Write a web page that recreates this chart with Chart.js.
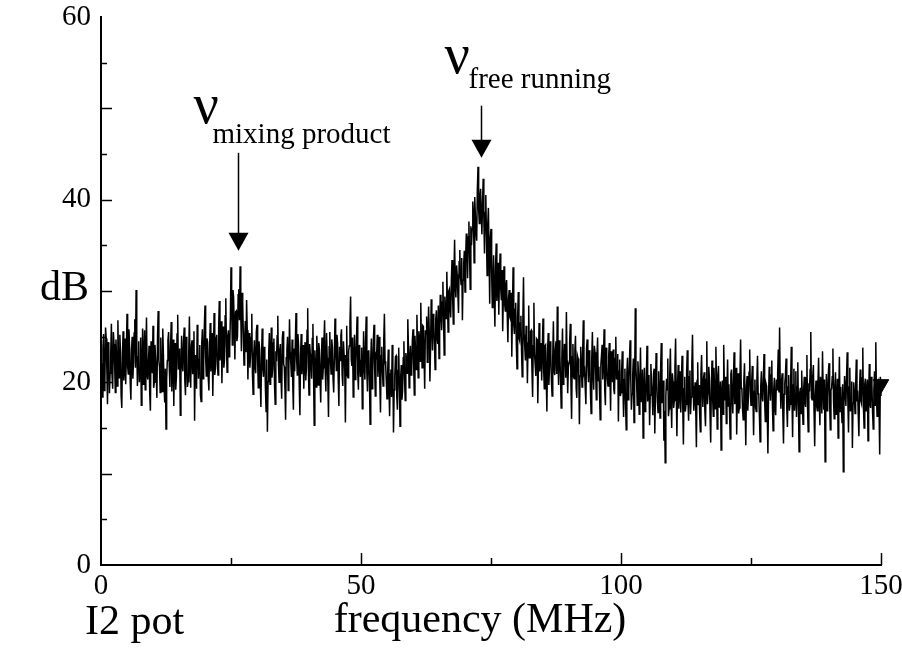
<!DOCTYPE html>
<html>
<head>
<meta charset="utf-8">
<script src="https://cdn.jsdelivr.net/npm/chart.js@4.4.1/dist/chart.umd.min.js"></script>
<style>
  html, body { margin: 0; padding: 0; background: #fff; }
  #wrap { width: 902px; height: 650px; }
</style>
</head>
<body>
<div id="wrap"><canvas id="c" width="902" height="650"></canvas></div>
<script>
// ---- data (dB values) ----
// samples on the quarter-MHz grid: f = k * 0.25 MHz
const freqStart = 0;      // MHz
const freqStep = 0.25;    // MHz between grid samples
// the "mid" arrays hold the samples lying halfway between grid samples

const dB_000_025 = [
  22.1, 18.4, 25.3, 20.2, 24.8, 17.6, 23.9, 21.0, 26.4, 19.3,
  24.2, 18.9, 22.7, 26.8, 20.5, 23.4, 17.2, 25.6, 21.3, 19.8,
  27.5, 20.9, 23.8, 18.1, 25.0, 22.2, 26.9, 30.1, 19.6, 24.5,
  21.4, 17.5, 25.9, 22.8, 19.2, 27.1, 20.3, 24.0, 16.9, 23.3,
  26.2, 20.0, 22.6, 18.3, 27.8, 21.7, 24.9, 19.0, 23.1, 17.8,
  14.9, 22.4, 25.5, 19.5, 26.6, 21.9, 17.4, 24.3, 20.6, 27.4,
  22.0, 16.4, 25.1, 21.2, 26.0, 18.6, 23.6, 20.1, 27.2, 19.4,
  24.6, 21.8, 15.8, 23.0, 26.3, 20.4, 24.1, 17.9, 25.8, 22.3,
  28.4, 20.7, 24.4, 19.1, 26.5, 22.9, 18.5, 27.6, 21.5, 25.2,
  20.8, 28.9, 23.5, 19.9, 26.1, 22.5, 29.2, 21.1, 25.7, 23.7
];
const dBmid_000_025 = [
  20.6, 23.8, 19.1, 26.0, 21.5, 24.4, 18.8, 23.2, 20.7, 25.5,
  21.9, 24.7, 19.6, 22.1, 25.2, 18.5, 22.9, 20.2, 24.8, 23.0,
  21.7, 25.8, 19.9, 23.6, 20.4, 25.4, 21.6, 24.2, 22.8, 20.0,
  24.9, 21.1, 19.8, 25.7, 23.4, 20.8, 22.3, 18.7, 24.5, 21.0,
  19.4, 24.1, 20.9, 25.1, 22.4, 18.9, 22.0, 25.9, 19.7, 21.5,
  20.3, 24.6, 21.8, 23.9, 19.0, 24.7, 22.6, 19.2, 25.3, 21.4,
  23.7, 20.6, 22.2, 24.5, 20.1, 25.0, 19.5, 23.3, 21.7, 24.0,
  20.9, 25.6, 22.9, 19.3, 23.8, 22.5, 18.6, 24.3, 20.4, 26.2,
  22.7, 24.8, 20.5, 23.6, 21.2, 25.4, 23.1, 20.8, 24.9, 22.0,
  25.9, 22.4, 26.7, 24.2, 21.6, 27.3, 23.9, 25.1, 22.8, 27.0
];
const dB_025_050 = [
  32.6, 24.1, 29.3, 22.5, 27.8, 25.0, 30.2, 32.7, 23.4, 28.6,
  21.9, 26.7, 29.0, 20.3, 25.4, 22.8, 27.5, 18.7, 24.6, 21.0,
  26.3, 19.4, 23.7, 17.3, 25.9, 20.6, 22.9, 16.8, 14.6, 23.2,
  19.8, 26.0, 21.4, 24.8, 17.6, 22.3, 27.3, 20.0, 24.2, 18.2,
  25.6, 21.7, 15.9, 23.5, 19.1, 26.9, 22.1, 24.7, 17.0, 21.2,
  27.6, 20.8, 23.9, 16.4, 25.3, 22.6, 19.3, 24.4, 21.5, 28.1,
  18.6, 23.1, 20.4, 26.4, 15.3, 22.0, 25.1, 19.7, 23.6, 17.8,
  24.9, 21.6, 26.8, 19.0, 22.7, 16.2, 25.5, 20.9, 23.8, 18.9,
  27.0, 21.3, 24.3, 17.4, 22.4, 25.8, 19.6, 23.0, 15.6, 26.2,
  20.5, 24.0, 29.4, 21.8, 18.4, 25.2, 22.2, 27.2, 19.2, 23.3
];
const dBmid_025_050 = [
  28.4, 30.1, 26.0, 27.7, 24.5, 29.6, 26.8, 27.9, 29.8, 25.2,
  24.6, 23.3, 25.7, 23.9, 21.6, 24.9, 20.9, 23.1, 21.7, 25.6,
  22.3, 24.5, 20.2, 22.8, 21.5, 23.9, 19.2, 22.5, 20.1, 25.4,
  22.8, 20.5, 24.3, 19.6, 23.4, 25.1, 21.9, 23.6, 20.4, 24.9,
  22.0, 19.3, 22.7, 25.0, 21.4, 23.3, 20.6, 19.8, 23.7, 24.5,
  22.5, 25.3, 19.6, 22.9, 20.9, 24.1, 22.8, 20.2, 25.7, 21.6,
  24.2, 21.9, 24.8, 20.7, 23.5, 19.5, 22.8, 24.3, 20.6, 22.4,
  20.3, 24.6, 21.1, 25.4, 20.1, 23.9, 22.3, 24.7, 20.4, 22.8,
  23.5, 25.2, 20.2, 23.9, 25.1, 20.8, 24.5, 21.5, 22.9, 20.7,
  23.4, 26.5, 22.5, 24.9, 22.1, 20.3, 24.6, 21.0, 24.1, 20.6
];
const dB_050_075 = [
  22.4, 17.1, 25.6, 20.3, 27.2, 19.0, 23.5, 15.4, 24.8, 21.1,
  26.3, 18.5, 22.8, 20.6, 25.0, 16.7, 23.9, 19.6, 27.5, 21.8,
  18.2, 23.6, 16.3, 21.4, 24.1, 14.5, 20.7, 22.9, 17.0, 23.8,
  15.2, 21.9, 19.1, 24.5, 18.0, 22.6, 26.9, 19.4, 24.0, 21.2,
  25.8, 18.6, 23.4, 27.4, 20.5, 24.9, 28.7, 21.6, 26.1, 19.3,
  25.3, 22.2, 28.3, 20.1, 29.1, 23.5, 26.6, 21.4, 27.9, 24.2,
  22.6, 29.6, 25.7, 31.0, 23.0, 28.4, 32.1, 25.5, 30.2, 27.1,
  33.4, 26.4, 35.6, 29.3, 31.8, 27.6, 34.5, 30.7, 26.8, 33.0,
  29.9, 36.3, 31.4, 37.6, 30.2, 35.0, 39.8, 33.1, 38.2, 35.5,
  43.6, 37.4, 41.2, 36.2, 42.3, 34.1, 40.5, 31.7, 39.1, 28.6
];
const dBmid_050_075 = [
  23.8, 20.6, 21.9, 24.3, 21.0, 23.4, 20.2, 22.6, 19.3, 24.5,
  21.6, 23.0, 25.2, 22.4, 19.8, 22.9, 21.2, 24.6, 22.3, 20.0,
  21.1, 19.7, 20.9, 18.4, 21.6, 19.2, 22.8, 18.5, 21.3, 19.6,
  20.5, 18.1, 22.7, 20.3, 23.2, 21.0, 23.9, 22.5, 20.8, 24.6,
  22.2, 25.1, 21.4, 24.0, 25.6, 22.3, 24.1, 26.2, 23.0, 25.7,
  27.2, 24.8, 25.6, 23.7, 26.4, 27.5, 24.3, 26.9, 25.0, 28.4,
  26.3, 27.5, 28.8, 26.6, 29.4, 27.0, 28.9, 30.0, 28.1, 31.1,
  29.2, 31.6, 30.4, 32.8, 29.7, 33.2, 31.5, 33.6, 31.2, 34.4,
  33.6, 34.2, 35.9, 34.0, 37.1, 36.8, 38.6, 40.3, 36.4, 41.1,
  39.0, 40.3, 38.5, 39.7, 37.9, 38.6, 36.1, 37.3, 34.5, 35.8
];
const dB_075_100 = [
  36.8, 28.2, 33.9, 26.1, 35.2, 30.3, 27.4, 34.1, 29.0, 25.6,
  32.7, 27.8, 31.2, 24.4, 30.1, 26.9, 22.8, 32.6, 25.3, 28.7,
  21.5, 29.9, 24.6, 27.3, 20.6, 31.5, 23.8, 26.2, 19.9, 28.4,
  22.7, 25.7, 18.4, 28.7, 21.9, 24.8, 17.7, 26.5, 22.3, 20.2,
  27.0, 19.3, 24.1, 16.8, 25.4, 21.6, 23.2, 18.5, 26.7, 20.8,
  24.5, 28.3, 19.7, 22.9, 17.2, 25.9, 21.0, 23.7, 27.7, 18.8,
  22.1, 26.4, 16.0, 24.2, 20.4, 25.1, 18.3, 22.6, 15.4, 23.9,
  19.5, 26.8, 21.3, 17.6, 24.7, 20.0, 22.8, 16.6, 25.5, 19.2,
  23.3, 18.1, 24.9, 21.7, 15.9, 23.0, 20.3, 25.8, 17.5, 22.2,
  19.6, 24.3, 16.9, 21.4, 23.6, 18.7, 25.0, 20.7, 15.7, 22.5
];
const dBmid_075_100 = [
  32.0, 31.5, 29.7, 32.6, 28.9, 33.1, 31.7, 30.2, 32.3, 29.4,
  28.6, 30.7, 27.3, 29.2, 27.1, 29.8, 27.9, 26.3, 28.0, 24.1,
  27.2, 24.9, 26.5, 23.4, 26.8, 25.2, 22.4, 25.1, 24.3, 22.7,
  25.6, 21.4, 24.0, 23.1, 20.7, 24.7, 22.0, 21.2, 24.3, 23.8,
  21.5, 24.0, 20.2, 23.3, 19.7, 24.5, 20.1, 22.8, 21.3, 23.6,
  20.9, 22.2, 24.6, 20.3, 22.7, 19.8, 24.2, 20.5, 22.4, 21.6,
  24.4, 19.9, 22.8, 20.6, 23.5, 19.4, 22.9, 21.1, 20.7, 22.0,
  23.1, 21.0, 19.3, 23.7, 21.9, 23.5, 18.9, 22.6, 20.8, 24.0,
  21.4, 22.9, 20.2, 18.8, 21.9, 24.1, 22.5, 19.1, 23.8, 20.4,
  22.8, 20.5, 23.4, 20.0, 19.2, 22.6, 20.3, 23.1, 21.2, 18.5
];
const dB_100_125 = [
  18.9, 23.4, 16.2, 21.5, 14.8, 22.7, 19.3, 24.6, 17.0, 20.8,
  15.6, 28.1, 19.9, 22.3, 16.5, 23.8, 18.2, 13.9, 21.6, 17.4,
  24.0, 19.1, 15.3, 22.0, 18.6, 20.9, 14.4, 23.2, 17.8, 21.2,
  16.1, 24.3, 19.5, 13.6, 11.2, 20.4, 22.6, 17.1, 23.7, 15.0,
  20.1, 18.0, 24.8, 14.1, 21.9, 19.0, 16.7, 22.9, 13.2, 20.6,
  17.6, 23.5, 15.8, 21.3, 18.4, 25.2, 16.9, 20.0, 12.9, 22.2,
  19.7, 14.6, 23.0, 17.3, 21.1, 15.2, 24.5, 18.8, 20.5, 13.4,
  22.4, 16.3, 19.4, 23.9, 14.9, 21.8, 17.7, 12.6, 20.2, 24.1,
  18.1, 15.5, 22.5, 19.8, 13.8, 21.4, 16.6, 23.3, 18.5, 14.3,
  21.0, 17.2, 24.7, 19.2, 15.9, 22.1, 13.1, 20.7, 18.3, 23.6
];
const dBmid_100_125 = [
  21.2, 19.4, 20.3, 17.6, 21.0, 18.1, 22.3, 20.4, 18.7, 22.6,
  20.1, 21.5, 17.5, 20.7, 19.8, 17.9, 21.4, 19.2, 16.8, 20.6,
  17.9, 20.8, 18.6, 19.9, 16.4, 21.5, 18.9, 20.1, 16.7, 19.3,
  21.6, 17.7, 20.2, 16.9, 18.5, 19.2, 16.3, 20.9, 18.3, 21.0,
  17.2, 21.8, 18.9, 19.7, 17.1, 21.2, 20.4, 17.4, 19.3, 16.8,
  21.1, 18.0, 20.6, 16.5, 22.0, 19.6, 18.3, 17.0, 20.2, 17.5,
  16.6, 20.9, 19.0, 20.4, 16.9, 20.3, 17.6, 21.7, 16.4, 19.4,
  18.2, 21.6, 17.1, 19.5, 20.7, 17.3, 20.1, 18.8, 16.5, 19.7,
  20.6, 19.1, 17.4, 16.8, 20.9, 18.2, 20.3, 17.6, 21.6, 18.9,
  16.6, 20.5, 19.4, 17.0, 20.2, 17.3, 19.6, 16.9, 21.1, 19.0
];
const dB_125_150 = [
  17.5, 21.8, 14.2, 20.3, 16.8, 22.9, 18.6, 13.5, 21.2, 17.9,
  23.1, 15.7, 19.6, 12.2, 21.7, 18.0, 22.4, 14.7, 20.5, 16.4,
  19.2, 23.6, 26.0, 17.1, 21.0, 13.3, 19.9, 22.6, 15.1, 20.8,
  17.6, 23.9, 14.0, 21.5, 18.7, 16.2, 22.2, 12.4, 19.4, 21.3,
  15.4, 20.6, 17.3, 23.0, 14.6, 19.0, 25.5, 18.1, 21.9, 13.0,
  20.2, 16.9, 22.7, 15.3, 19.7, 23.4, 17.0, 11.3, 20.9, 18.4,
  22.1, 14.8, 19.3, 23.7, 16.0, 21.1, 17.8, 13.9, 22.8, 19.5,
  15.6, 10.2, 20.7, 17.4, 23.3, 14.5, 21.6, 18.2, 12.8, 20.0,
  16.6, 22.5, 19.1, 14.1, 21.4, 17.7, 23.8, 15.0, 20.4, 18.9,
  13.6, 22.0, 17.2, 19.8, 14.9, 21.2, 24.4, 16.3, 20.1, 12.1,
  18.5
];
const dBmid_125_150 = [
  19.9, 18.4, 19.0, 17.3, 20.1, 18.8, 16.2, 19.6, 18.5, 20.4,
  18.0, 19.9, 16.6, 18.5, 19.4, 20.8, 17.3, 19.2, 17.1, 20.3,
  21.0, 18.9, 19.6, 20.2, 16.5, 18.7, 20.8, 17.4, 19.5, 16.9,
  20.1, 18.6, 19.7, 16.9, 21.2, 19.5, 17.2, 18.9, 16.6, 18.1,
  19.2, 17.8, 20.5, 17.1, 19.9, 21.4, 18.3, 20.7, 16.8, 18.6,
  17.4, 19.8, 18.2, 20.6, 16.6, 19.3, 20.3, 18.0, 16.9, 21.0,
  17.6, 19.2, 20.6, 17.9, 19.6, 16.5, 20.4, 18.7, 16.8, 17.6,
  19.8, 17.5, 19.2, 20.6, 18.1, 19.5, 16.8, 20.1, 17.7, 18.7,
  19.5, 17.9, 16.4, 19.3, 18.0, 20.5, 17.3, 19.8, 16.9, 20.3,
  18.4, 17.6, 20.6, 16.8, 19.1, 17.5, 18.3, 19.9, 17.2, 20.6
];

// end-of-sweep marker
const endMarkerFreq = [150];
const endMarkerDB = [19.8];

// annotated frequencies (MHz) and arrow-tip levels (dB)
const annotLabels = ['mixing product', 'free running'];
const annotFreq = [26.4, 73.0];
const annotTipDB = [34.4, 44.6];

// axis ticks
const xTickValues = [0, 50, 100, 150];
const yTickValues = [0, 20, 40, 60];

// ---- build points ----
const gridDB = [].concat(dB_000_025, dB_025_050, dB_050_075, dB_075_100, dB_100_125, dB_125_150);
const midDB = [].concat(dBmid_000_025, dBmid_025_050, dBmid_050_075, dBmid_075_100, dBmid_100_125, dBmid_125_150);
const spectrum = [];
gridDB.forEach((v, k) => {
  spectrum.push({ x: freqStart + k * freqStep, y: v });
  if (k < midDB.length) spectrum.push({ x: freqStart + (k + 0.5) * freqStep, y: midDB[k] });
});

const SERIF = '"Liberation Serif", "Times New Roman", serif';

const decorPlugin = {
  id: 'decor',
  afterDraw(chart) {
    const ctx = chart.ctx;
    const xs = chart.scales.x, ys = chart.scales.y;
    const a = chart.chartArea;
    ctx.save();
    ctx.strokeStyle = '#000';
    ctx.fillStyle = '#000';
    ctx.lineWidth = 1.5;
    // inward ticks on y axis
    for (let v = 5; v < 60; v += 5) {
      const y = Math.round(ys.getPixelForValue(v)) + 0.5;
      const len = (v % 10 === 0) ? 11 : 6;
      ctx.beginPath(); ctx.moveTo(a.left, y); ctx.lineTo(a.left + len, y); ctx.stroke();
    }
    // inward ticks on x axis
    for (let v = 25; v <= 150; v += 25) {
      const x = Math.round(xs.getPixelForValue(v)) + 0.5;
      const len = (v % 50 === 0) ? 12 : 7;
      ctx.beginPath(); ctx.moveTo(x, a.bottom); ctx.lineTo(x, a.bottom - len); ctx.stroke();
    }
    // axis titles
    ctx.textBaseline = 'alphabetic';
    ctx.textAlign = 'center';
    ctx.font = '42px ' + SERIF;
    ctx.fillText('frequency (MHz)', 480, 632);
    ctx.textAlign = 'left';
    ctx.fillText('dB', 40, 300);
    ctx.fillText('I2 pot', 85, 634);

    // annotations: arrows + nu labels
    const shaft = [80, 34];
    const nuOff = [[-45, -128], [-37, -85]];
    const subOff = [[-26, -108], [-13, -70]];
    annotLabels.forEach((lab, i) => {
      const tx = Math.round(xs.getPixelForValue(annotFreq[i])) + 0.5;
      const ty = ys.getPixelForValue(annotTipDB[i]);
      const headH = 18, headW = 10;
      ctx.lineWidth = 1.5;
      ctx.beginPath();
      ctx.moveTo(tx, ty - headH - shaft[i]);
      ctx.lineTo(tx, ty - headH + 2);
      ctx.stroke();
      ctx.beginPath();
      ctx.moveTo(tx, ty);
      ctx.lineTo(tx - headW, ty - headH);
      ctx.lineTo(tx + headW, ty - headH);
      ctx.closePath();
      ctx.fill();
      ctx.font = '56px ' + SERIF;
      ctx.fillText('\u03BD', tx + nuOff[i][0], ty + nuOff[i][1]);
      ctx.font = '29px ' + SERIF;
      ctx.fillText(lab, tx + subOff[i][0], ty + subOff[i][1]);
    });
    ctx.restore();
  }
};

new Chart(document.getElementById('c'), {
  type: 'line',
  data: {
    datasets: [
      {
        data: spectrum,
        borderColor: '#000',
        borderWidth: 1.5,
        pointRadius: 0,
        tension: 0,
        fill: false
      },
      {
        type: 'scatter',
        data: endMarkerFreq.map((f, i) => ({ x: f, y: endMarkerDB[i] })),
        pointStyle: 'triangle',
        rotation: 180,
        radius: 9,
        backgroundColor: '#000',
        borderColor: '#000'
      }
    ]
  },
  options: {
    responsive: false,
    devicePixelRatio: 1,
    animation: false,
    clip: false,
    layout: { padding: { top: 17, right: 21, left: 0, bottom: 0 } },
    plugins: { legend: { display: false }, tooltip: { enabled: false } },
    scales: {
      x: {
        type: 'linear', min: 0, max: 150,
        afterBuildTicks: s => { s.ticks = xTickValues.map(v => ({ value: v })); },
        afterFit: s => { s.height = 85; s.paddingLeft = 0; s.paddingRight = 0; },
        grid: { display: false, drawTicks: false },
        border: { display: true, color: '#000', width: 2 },
        ticks: { color: '#000', padding: 4, maxRotation: 0, font: { family: SERIF, size: 29 } }
      },
      y: {
        type: 'linear', min: 0, max: 60,
        afterBuildTicks: s => { s.ticks = yTickValues.map(v => ({ value: v })); },
        afterFit: s => { s.width = 101; s.paddingTop = 0; s.paddingBottom = 0; },
        grid: { display: false, drawTicks: false },
        border: { display: true, color: '#000', width: 2 },
        ticks: { color: '#000', padding: 10, font: { family: SERIF, size: 29 } }
      }
    }
  },
  plugins: [decorPlugin]
});
</script>
</body>
</html>
